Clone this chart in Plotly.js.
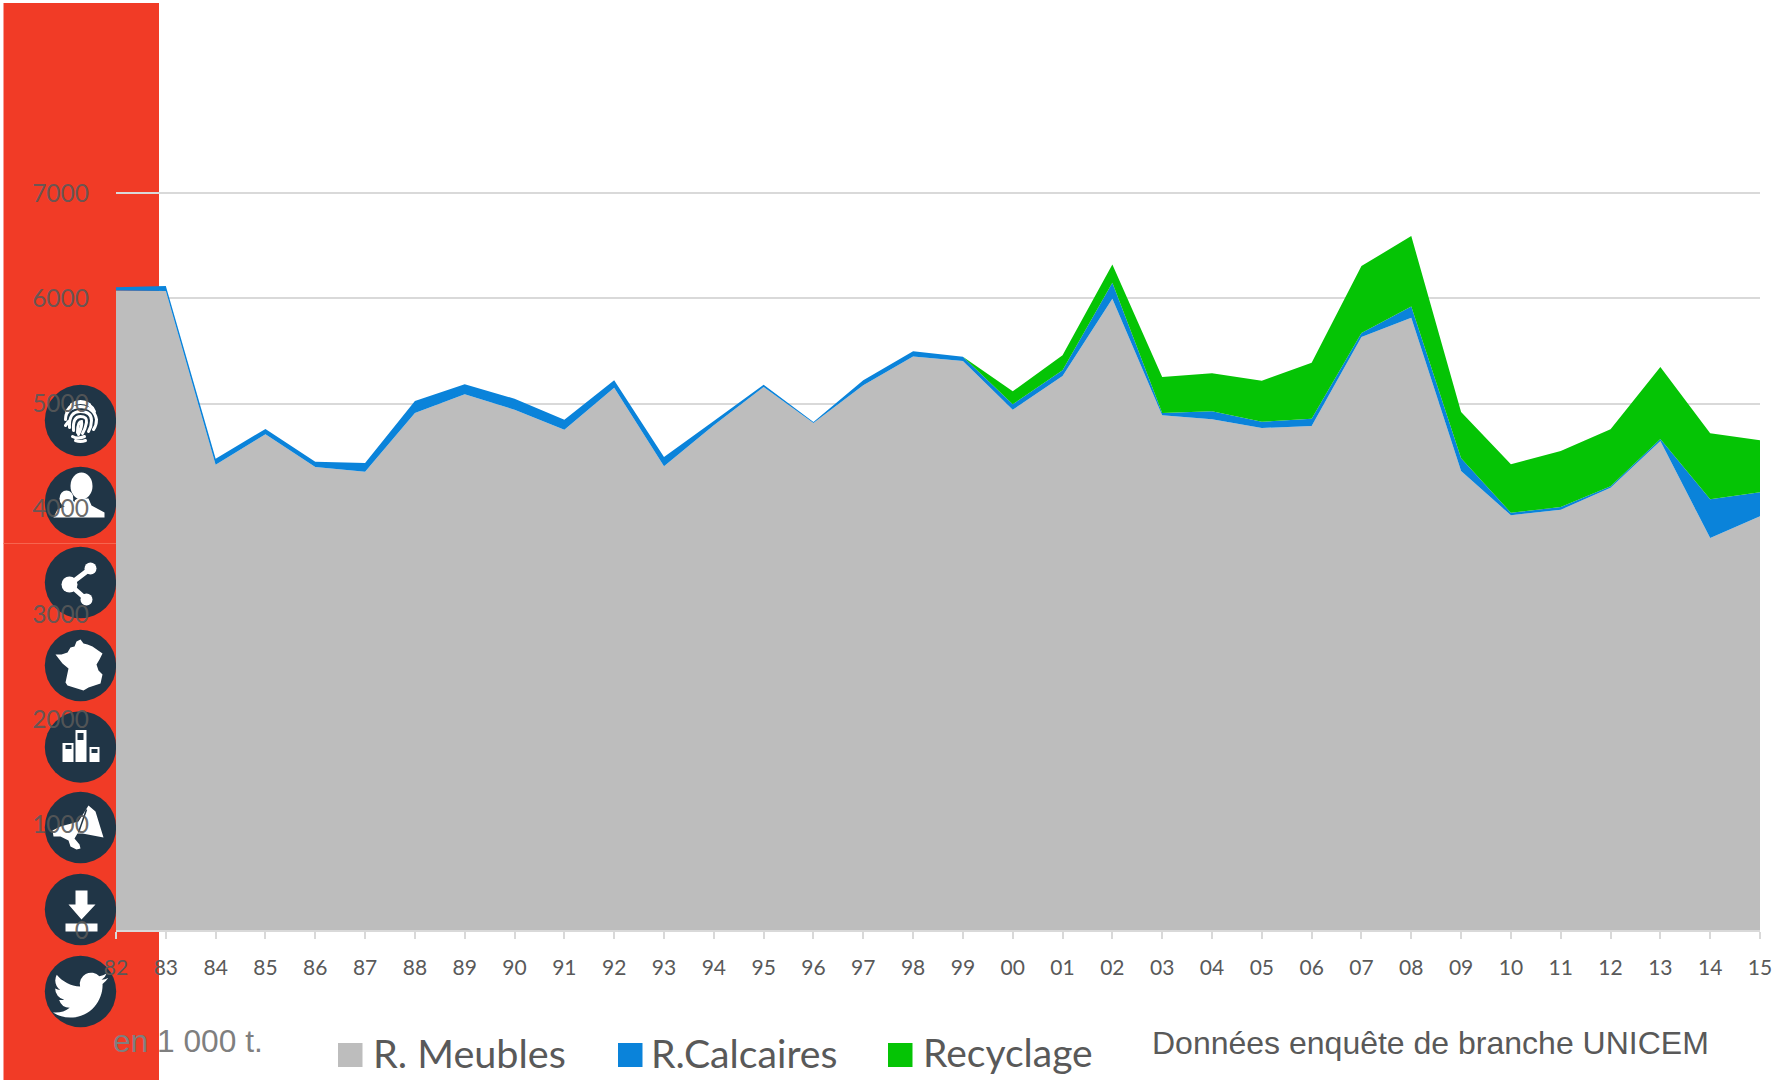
<!DOCTYPE html>
<html><head><meta charset="utf-8">
<script src="https://cdn.plot.ly/plotly-3.0.1.min.js"></script>
<style>html,body{margin:0;padding:0;background:#fff}#c{width:1784px;height:1080px}</style>
</head><body><div id="c"></div>
<script>
const years = ["82","83","84","85","86","87","88","89","90","91","92","93","94","95","96","97","98","99","00","01","02","03","04","05","06","07","08","09","10","11","12","13","14","15"];
const meubles = [6075,6069,4419,4708,4398,4353,4910,5088,4942,4752,5150,4404,4793,5157,4815,5173,5448,5404,4942,5261,5996,4888,4850,4768,4787,5632,5815,4359,3939,3992,4201,4644,3723,3929];
const calcaires = [30,47,57,51,50,83,114,95,104,95,71,88,41,22,10,48,48,41,51,55,152,22,76,59,69,38,108,121,24,25,13,19,368,228];
const recyclage = [0,0,0,0,0,0,0,0,0,0,0,0,0,0,0,0,0,0,123,142,174,342,361,390,532,636,668,440,460,532,541,684,626,494];
const seriesNames = ["R. Meubles","R.Calcaires","Recyclage"];
const seriesColors = ["#bdbdbd","#0a83da","#05c405"];
const yTicks = [0,1000,2000,3000,4000,5000,6000,7000];

const W=1784,H=1080,ml=116,mr=24,mt=191,mb=150;
const px=x=>(x-ml)/(W-ml-mr), py=y=>1-(y-mt)/(H-mt-mb);

const traces=[meubles,calcaires,recyclage].map((v,i)=>({
  x:years,y:v,name:seriesNames[i],type:'scatter',mode:'lines',stackgroup:'one',
  line:{width:0,color:seriesColors[i]},fillcolor:seriesColors[i],hoverinfo:'x+y+name'
}));

const D='#203546';
const glyphs={
 finger:`<g fill="none" stroke="#fff" stroke-width="3" stroke-linecap="round">
  <path d="M-9,-16 Q0,-22 9,-16"/><path d="M-14,-9 Q-9,-18 0,-18 Q10,-18 14,-9"/>
  <path d="M-15,-1 Q-15,-13 0,-14 Q14,-13 16,-1 Q16,5 13,9"/><path d="M-11,7 Q-12,-9 0,-9 Q11,-9 11,0 Q11,6 8,11"/>
  <path d="M-7,10 Q-8,-4 0,-4 Q7,-4 6,2 Q5,8 2,13"/><path d="M-3,12 Q-3,1 1,1 Q2,5 -2,14"/>
  <path d="M-12,1 L-15,5"/><path d="M-8,16 Q-3,19 4,16"/><path d="M-5,20 Q0,22 5,20"/></g>`,
 person:`<g fill="#fff"><ellipse cx="1" cy="-16.5" rx="11" ry="13.5"/><ellipse cx="-14" cy="-4" rx="7" ry="8"/><path d="M-27,15 L-23,7 L-12,2 L-3,-4 L8,-4 L11,3 L24,10 L24,15 Z"/></g><path d="M-7,-6 L-6,-1" stroke="${D}" stroke-width="1"/>`,
 share:`<g fill="#fff" stroke="#fff"><path d="M-11,2 L10,-14 M-11,2 L6,17" stroke-width="5"/><circle cx="-11" cy="2" r="8" stroke="none"/><circle cx="10" cy="-14" r="6" stroke="none"/><circle cx="6" cy="17" r="6" stroke="none"/></g>`,
 france:`<path fill="#fff" d="M0,-26 L3,-22 L7,-21 L12,-19 L22,-12 L19,-6 L16,-1 L18,5 L22,9 L20,18 L8,22 L3,25 L-13,20 L-15,17 L-12,3 L-18,-2 L-25,-11 L-19,-11 L-13,-13 L-10,-18 L-6,-19 L-4,-24 Z"/>`,
 podium:`<path fill="#fff" fill-rule="evenodd" d="M-18,-4 h11 v19 h-11 Z M-15,-2 v4 h6 v-4 Z M-5,-17 h11 v32 h-11 Z M-3,-14 v7 h6 v-7 Z M9,0 h10 v15 h-10 Z M11,2 v4 h6 v-4 Z"/>`,
 mega:`<path fill="#fff" d="M8,-22 L15,-16 L23,10 L2,6 L-3,6 L-6,11 L-1,17 L0,21 L-4,22 L-10,19 L-12,13 L-20,9 L-27,9 L-28,3 L-20,-1 L-2,-6 Z"/><path d="M6,-18 L-2,5" stroke="${D}" stroke-width="1.5"/>`,
 down:`<path fill="#fff" d="M-5,-19 H7 V-5 H15 L1,10 L-12,-5 H-5 Z M-15,14 H17 V22 H-15 Z"/>`,
 bird:`<g transform="translate(-27.5,-24) scale(2.3)"><path fill="#fff" d="M23.953 4.57a10 10 0 01-2.825.775 4.958 4.958 0 002.163-2.723c-.951.555-2.005.959-3.127 1.184a4.92 4.92 0 00-8.384 4.482C7.69 8.095 4.067 6.13 1.64 3.162a4.822 4.822 0 00-.666 2.475c0 1.71.87 3.213 2.188 4.096a4.904 4.904 0 01-2.228-.616v.06a4.923 4.923 0 003.946 4.827 4.996 4.996 0 01-2.212.085 4.936 4.936 0 004.604 3.417 9.867 9.867 0 01-6.102 2.105c-.39 0-.779-.023-1.17-.067a13.995 13.995 0 007.557 2.209c9.053 0 13.998-7.496 13.998-13.985 0-.21 0-.42-.015-.63A9.935 9.935 0 0024 4.59z"/></g>`
};
const iconList=[['finger',420.5],['person',502.5],['share',582.5],['france',665.5],['podium',747],['mega',827.5],['down',909.5],['bird',991.5]];
const svgUri=s=>'data:image/svg+xml;charset=utf-8,'+encodeURIComponent(s);
const pw=W-ml-mr, ph=H-mt-mb;
const images=[{
  source:svgUri(`<svg xmlns="http://www.w3.org/2000/svg" width="156" height="1077" viewBox="3 3 156 1077"><rect x="3.5" y="3" width="155.5" height="1077" fill="#f13b26"/><rect x="3.5" y="543" width="112.5" height="1" fill="#f6654f"/></svg>`),
  xref:'paper',yref:'paper',x:px(3),y:py(3),sizex:156/pw,sizey:1077/ph,xanchor:'left',yanchor:'top',sizing:'stretch',layer:'below'
}].concat(iconList.map(([k,cy])=>({
  source:svgUri(`<svg xmlns="http://www.w3.org/2000/svg" width="80" height="80" viewBox="-40 -40 80 80"><circle r="35.7" fill="${D}"/>${glyphs[k]}</svg>`),
  xref:'paper',yref:'paper',x:px(40.5),y:py(cy-40),sizex:80/pw,sizey:80/ph,
  xanchor:'left',yanchor:'top',sizing:'stretch',layer:'below'
})));

const shapes=[];
const swX=[338,618,888], txX=[372,650,922];
seriesNames.forEach((n,i)=>shapes.push({type:'rect',xref:'paper',yref:'paper',x0:px(swX[i]),x1:px(swX[i]+24.5),y0:py(1043),y1:py(1067),fillcolor:seriesColors[i],line:{width:0}}));

const ann=(t,x,y,size,color,family)=>({text:t,xref:'paper',yref:'paper',x:px(x),y:py(y),xanchor:'left',yanchor:'middle',showarrow:false,borderpad:0,
  font:{size,color,family}});
const annotations=[
 ann('en 1 000 t.',112,1041,31.7,'#7f7f7f','Liberation Sans'),
 ann('Données enquête de branche UNICEM',1151,1043,32,'#595959','Liberation Sans')
];
const legSizes=[39.6,39.2,39];
seriesNames.forEach((n,i)=>annotations.push(ann(n,txX[i],1052,legSizes[i],'#595959','Lato')));

Plotly.newPlot('c',traces,{
 width:W,height:H,margin:{l:ml,r:mr,t:mt,b:mb,pad:0},
 paper_bgcolor:'rgba(0,0,0,0)',plot_bgcolor:'rgba(0,0,0,0)',showlegend:false,
 xaxis:{type:'category',range:[0,33],tickmode:'array',tickvals:years,ticktext:years,ticks:'outside',ticklen:7,tickwidth:2,tickcolor:'#d9d9d9',
  showline:true,linecolor:'#d9d9d9',linewidth:2,showgrid:false,zeroline:false,tickangle:0,ticklabelstandoff:11,
  tickfont:{family:'Lato',size:21,color:'#595959'}},
 yaxis:{range:[0,7019],tickmode:'array',tickvals:yTicks,ticks:'',showline:false,showgrid:true,gridcolor:'#d9d9d9',gridwidth:2,zeroline:false,
  ticklabelstandoff:26,tickfont:{family:'Lato',size:24.5,color:'rgba(89,89,89,0.9)'}},
 shapes,images,annotations
},{displayModeBar:false,staticPlot:true});
</script></body></html>
